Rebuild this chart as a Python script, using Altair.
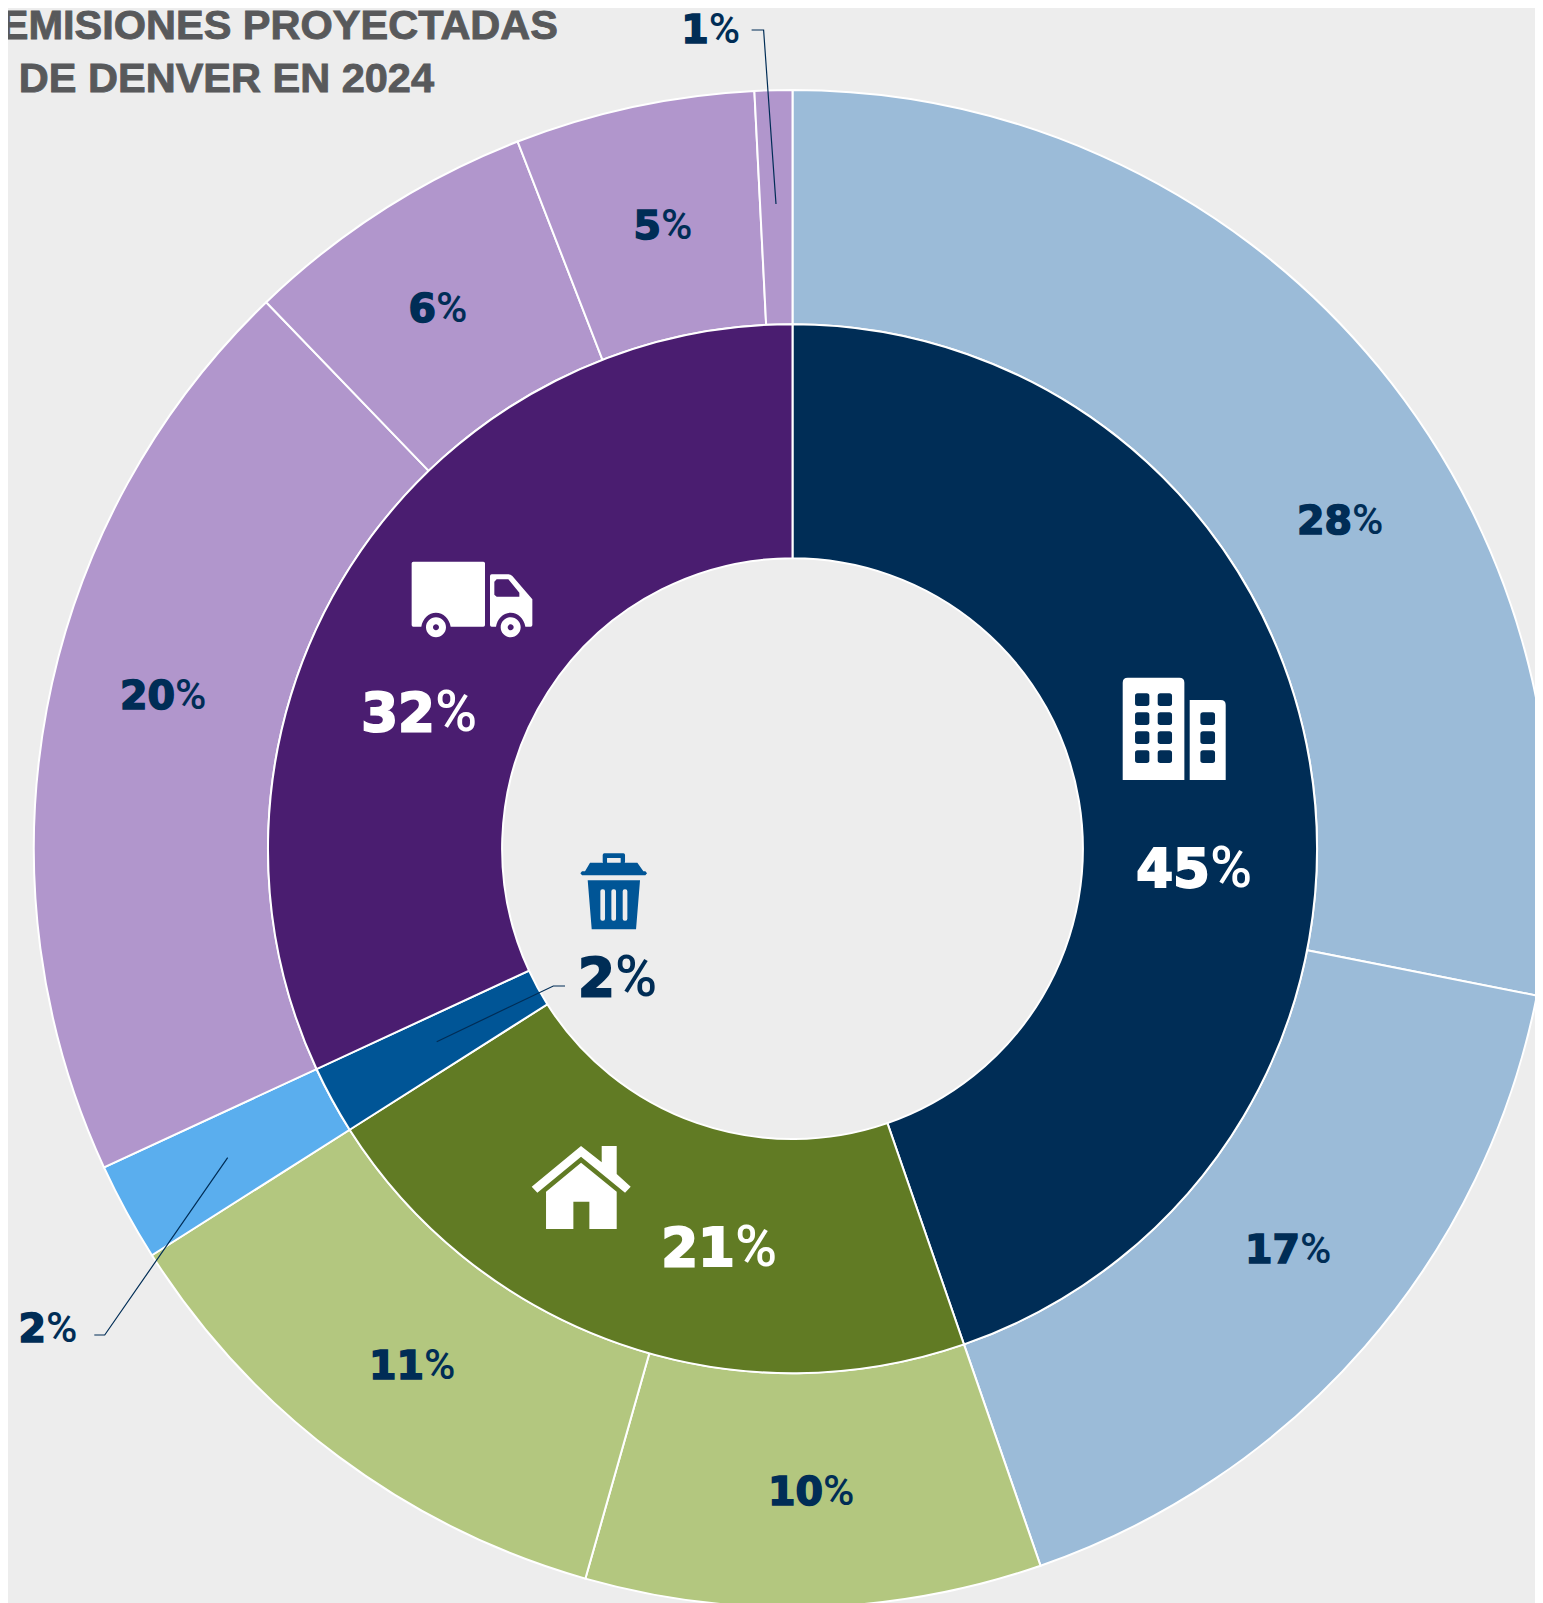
import altair as alt
import pandas as pd

# ---- values ----
sectors = ["Edificios", "Hogares", "Residuos", "Transporte"]
sector_values = [44.7, 21.3, 2.1, 31.9]
sector_colors = ["#002D56", "#617B24", "#005596", "#4A1D70"]

detail_sectors = ["Edificios", "Edificios", "Hogares", "Hogares", "Residuos",
                  "Transporte", "Transporte", "Transporte", "Transporte"]
detail_values = [28.1, 16.6, 9.7, 11.6, 2.1, 19.7, 6.3, 5.1, 0.8]
detail_colors = ["#9BBBD8", "#B3C77F", "#5AAEEE", "#B196CC"]

title_lines = ["EMISIONES PROYECTADAS", "DE DENVER EN 2024"]

big_digits = ["45", "21", "32"]
small_digits = ["28", "17", "10", "11", "20", "6", "5", "1", "2"]
waste_digit = ["2"]

# ---- layout, in page pixels ----
OFFSET = 8
W, H = 1527, 1595
CX, CY = 792.5 - OFFSET, 848.7 - OFFSET
R0, R1, R2 = 290.4, 524.5, 758.7
INK = "#002D56"
BG = "#EDEDED"
NUM_FONT = "DejaVu Sans"
SIGN_FONT = "Roboto"

big_pos = [(1210, 887), (735, 1266), (435, 731)]
small_pos = [(1352, 534), (1300, 1263), (823, 1505), (424, 1379), (175, 709),
             (436, 322), (661, 239), (708.7, 43), (46, 1342)]
waste_pos = [(615, 996)]
title_pos = [(558, 38.5), (434, 92)]
leaders = [
    [(751.6, 30), (763.6, 30), (776, 204)],
    [(565, 986), (553.3, 986), (436.7, 1041.7)],
    [(94.3, 1335), (104.7, 1335), (227.7, 1157.7)],
]


def px_frame(rows, texts=None):
    d = pd.DataFrame(rows, columns=["x", "y"])
    d["x"] -= OFFSET
    d["y"] -= OFFSET
    if texts is not None:
        d["t"] = texts
    return d


X = alt.X("x:Q", scale=None, axis=None)
Y = alt.Y("y:Q", scale=None, axis=None)

theta = alt.Theta("value:Q", stack=True,
                  scale=alt.Scale(domain=[0, 100], range=[0, 6.283185307]))


def ring(values, names, colors, domain, r_in, r_out):
    d = pd.DataFrame({"idx": range(len(values)), "value": values, "name": names})
    return alt.Chart(d).mark_arc(
        innerRadius=r_in, outerRadius=r_out, stroke="white", strokeWidth=2
    ).encode(
        theta=theta,
        order=alt.Order("idx:Q"),
        x=alt.value(CX),
        y=alt.value(CY),
        color=alt.Color("name:N", legend=None,
                        scale=alt.Scale(domain=domain, range=colors)),
    )


inner = ring(sector_values, [s + " total" for s in sectors], sector_colors + detail_colors,
             [s + " total" for s in sectors] + sectors, R0, R1)
outer = ring(detail_values, detail_sectors, sector_colors + detail_colors,
             [s + " total" for s in sectors] + sectors, R1, R2)


# ---- icons: traced shapes (nonzero fill, holes wound the other way) ----
def n(box):
    x0, y0, x1, y1 = box
    cx, cy = (x0 + x1) / 2, (y0 + y1) / 2
    s = max(x1 - x0, y1 - y0) / 2
    return lambda x, y: f"{(x - cx) / s:.4f},{(y - cy) / s:.4f}"


def poly(f, pts):
    return "M" + "L".join(f(*p) for p in pts) + "Z"


def rrect(f, x0, y0, x1, y1, r, hole=False):
    pts = [
        ("M", x0 + r, y0), ("L", x1 - r, y0), ("Q", x1, y0, x1, y0 + r),
        ("L", x1, y1 - r), ("Q", x1, y1, x1 - r, y1), ("L", x0 + r, y1),
        ("Q", x0, y1, x0, y1 - r), ("L", x0, y0 + r), ("Q", x0, y0, x0 + r, y0),
    ]
    if hole:
        pts = [
            ("M", x0 + r, y0), ("Q", x0, y0, x0, y0 + r), ("L", x0, y1 - r),
            ("Q", x0, y1, x0 + r, y1), ("L", x1 - r, y1), ("Q", x1, y1, x1, y1 - r),
            ("L", x1, y0 + r), ("Q", x1, y0, x1 - r, y0), ("L", x0 + r, y0),
        ]
    out = ""
    for p in pts:
        if p[0] == "Q":
            out += "Q" + f(p[1], p[2]) + " " + f(p[3], p[4])
        else:
            out += p[0] + f(p[1], p[2])
    return out + "Z"


def circle(f, cx, cy, r, hole=False):
    k = 0.5523 * r
    if not hole:
        segs = [((cx + k, cy - r), (cx + r, cy - k), (cx + r, cy)),
                ((cx + r, cy + k), (cx + k, cy + r), (cx, cy + r)),
                ((cx - k, cy + r), (cx - r, cy + k), (cx - r, cy)),
                ((cx - r, cy - k), (cx - k, cy - r), (cx, cy - r))]
    else:
        segs = [((cx - k, cy - r), (cx - r, cy - k), (cx - r, cy)),
                ((cx - r, cy + k), (cx - k, cy + r), (cx, cy + r)),
                ((cx + k, cy + r), (cx + r, cy + k), (cx + r, cy)),
                ((cx + r, cy - k), (cx + k, cy - r), (cx, cy - r))]
    s = "M" + f(cx, cy - r)
    for a, b, c in segs:
        s += "C" + f(*a) + " " + f(*b) + " " + f(*c)
    return s + "Z"


# building
b = (128, 113, 437, 420)
f = n(b)
building = (
    "M" + f(143, 113) + "L" + f(298, 113) + "Q" + f(313, 113) + " " + f(313, 128)
    + "L" + f(313, 420) + "L" + f(128, 420) + "L" + f(128, 128)
    + "Q" + f(128, 113) + " " + f(143, 113) + "Z"
    + "M" + f(329, 180) + "L" + f(422, 180) + "Q" + f(437, 180) + " " + f(437, 195)
    + "L" + f(437, 420) + "L" + f(329, 420) + "Z"
)
for yy in [(160, 198), (217, 255), (274, 312), (331, 369)]:
    building += rrect(f, 165, yy[0], 208, yy[1], 8, hole=True)
    building += rrect(f, 233, yy[0], 276, yy[1], 8, hole=True)
for yy in [(217, 255), (274, 312), (331, 369)]:
    building += rrect(f, 361, yy[0], 405, yy[1], 8, hole=True)

# truck
b = (95, 65, 457, 292)
f = n(b)
truck = (
    "M" + f(100, 65) + "L" + f(310, 65) + "Q" + f(315, 65) + " " + f(315, 70)
    + "L" + f(315, 255) + "Q" + f(315, 260) + " " + f(310, 260) + "L" + f(212, 260)
    + "C" + f(208, 236) + " " + f(190, 218) + " " + f(168, 218)
    + "C" + f(146, 218) + " " + f(128, 236) + " " + f(124, 260)
    + "L" + f(100, 260) + "Q" + f(95, 260) + " " + f(95, 255)
    + "L" + f(95, 70) + "Q" + f(95, 65) + " " + f(100, 65) + "Z"
    + "M" + f(335, 103) + "L" + f(385, 103) + "Q" + f(392, 103) + " " + f(397, 108)
    + "L" + f(457, 178) + "L" + f(457, 255) + "Q" + f(457, 260) + " " + f(452, 260)
    + "L" + f(436, 260) + "C" + f(432, 236) + " " + f(414, 218) + " " + f(392, 218)
    + "C" + f(370, 218) + " " + f(352, 236) + " " + f(348, 260)
    + "L" + f(335, 260) + "Q" + f(330, 260) + " " + f(330, 255)
    + "L" + f(330, 108) + "Q" + f(330, 103) + " " + f(335, 103) + "Z"
    + "M" + f(350, 118) + "L" + f(343, 125) + "L" + f(343, 164) + "L" + f(350, 170)
    + "L" + f(418, 170) + "L" + f(418, 158) + "L" + f(385, 118) + "Z"
    + circle(f, 168, 262, 30) + circle(f, 168, 262, 9, hole=True)
    + circle(f, 392, 262, 30) + circle(f, 392, 262, 9, hole=True)
)

# house
b = (65, 48, 362, 297)
f = n(b)
house = (
    poly(f, [(213, 48), (275, 97), (275, 48), (320, 48), (320, 132), (362, 170),
             (345, 188), (213, 80), (82, 188), (65, 170)])
    + poly(f, [(213, 98), (320, 185), (320, 297), (238, 297), (238, 215), (190, 215),
               (190, 297), (108, 297), (108, 185)])
)

# trash can
b = (481, 70, 681, 298)
f = n(b)
trash = (
    rrect(f, 548, 70, 615, 100, 5) + rrect(f, 561, 84, 602, 98, 1, hole=True)
    + poly(f, [(510, 98), (652, 98), (670, 124), (676, 124), (681, 130), (676, 136),
               (486, 136), (481, 130), (486, 124), (495, 124)])
    + poly(f, [(503, 151), (660, 151), (648, 298), (515, 298)])
    + rrect(f, 541, 178, 555, 272, 6, hole=True)
    + rrect(f, 574, 178, 588, 272, 6, hole=True)
    + rrect(f, 608, 178, 622, 272, 6, hole=True)
)

icon_specs = [
    (building, "white", 1174.2, 728.8, 103.0),
    (truck, "white", 472.0, 599.5, 120.7),
    (house, "white", 581.2, 1187.5, 99.0),
    (trash, "#005596", 613.7, 891.3, 76.0),
]
icons = []
for path, col, ix, iy, extent in icon_specs:
    icons.append(
        alt.Chart(px_frame([(ix, iy)])).mark_point(
            shape=path, filled=True, fill=col, stroke=None, opacity=1, size=extent ** 2
        ).encode(x=X, y=Y)
    )


# ---- percent labels: heavy digits, lighter percent sign ----
def pct(digits, pos, size, color):
    d = px_frame(pos, digits)
    nums = alt.Chart(d).mark_text(
        align="right", baseline="alphabetic", font=NUM_FONT, fontWeight="bold",
        fontSize=size, color=color, stroke=color, strokeWidth=size * 0.04
    ).encode(x=X, y=Y, text="t:N")
    sign = alt.Chart(d.assign(s="%")).mark_text(
        align="left", baseline="alphabetic", font=SIGN_FONT, fontWeight=500,
        fontSize=size * 1.08, color=color, dx=0
    ).encode(x=X, y=Y, text="s:N")
    return nums + sign


labels = (
    pct(big_digits, big_pos, 53, "white")
    + pct(waste_digit, waste_pos, 53, INK)
    + pct(small_digits, small_pos, 39.5, INK)
)

leader_layers = []
for i, line in enumerate(leaders):
    d = px_frame(line)
    d["o"] = range(len(d))
    leader_layers.append(
        alt.Chart(d).mark_line(color=INK, strokeWidth=1.2).encode(x=X, y=Y, order="o:Q")
    )

title = alt.Chart(px_frame(title_pos, title_lines)).mark_text(
    align="right", baseline="alphabetic", font="Liberation Sans", fontWeight="bold",
    fontSize=41.5, color="#58595B", stroke="#58595B", strokeWidth=0.9
).encode(x=X, y=Y, text="t:N")

chart = alt.layer(outer, inner, *icons, labels, *leader_layers, title).properties(
    width=W, height=H, background=BG, padding=0,
    autosize=alt.AutoSizeParams(type="none"),
).configure_view(stroke=None)

chart.save("out.html", embed_options={"renderer": "svg", "actions": False})
